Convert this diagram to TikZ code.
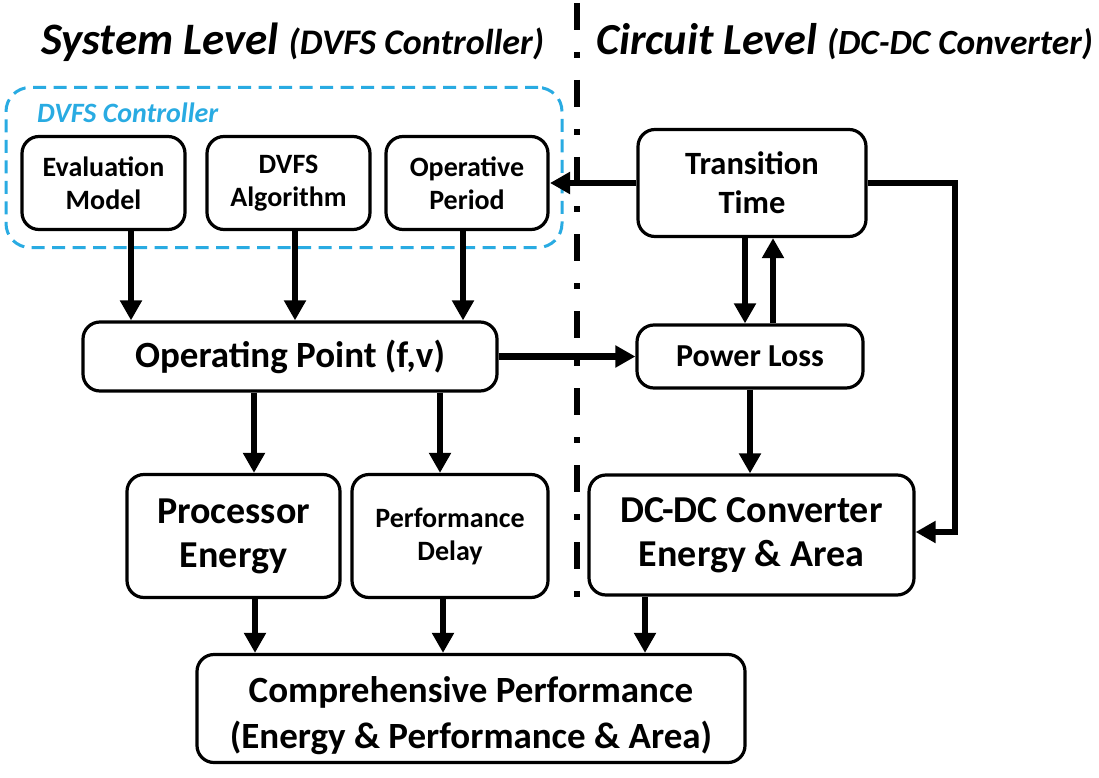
\documentclass[tikz,border=0pt]{standalone}
\usepackage{fontspec}
\setmainfont{Carlito}
\usetikzlibrary{arrows.meta,calc}
\definecolor{ctrlblue}{RGB}{41,171,226}
\begin{document}
\begin{tikzpicture}[x=1pt,y=-1pt,
  box/.style={draw, line width=3.2pt, rounded corners=17pt, align=center, inner sep=0pt},
  arr/.style={line width=6.5pt, -{Triangle[length=20pt,width=21pt]}},
  fs/.style 2 args={font=\fontsize{#1}{#2}\selectfont\bfseries}]
\useasboundingbox (0,0) rectangle (1099,778);

% titles
\node[anchor=west, inner sep=0pt] (t1) at (41,42) {\fontsize{45}{54}\selectfont\bfseries\itshape System Level \fontsize{36}{44}\selectfont(DVFS Controller)};
\node[anchor=west, inner sep=0pt] (t2) at (596,42) {\fontsize{44.3}{54}\selectfont\bfseries\itshape Circuit Level \fontsize{35.4}{44}\selectfont(DC-DC Converter)};

% divider
\coordinate (d1) at (577,3);
\coordinate (d2) at (577,597);
\draw[line width=6.5pt, dash pattern=on 27pt off 22pt on 6pt off 22pt] (d1) -- (d2);

% DVFS controller group
\node[draw=ctrlblue, line width=3pt, dash pattern=on 13pt off 7.5pt, rounded corners=24pt,
      minimum width=556pt, minimum height=160pt, inner sep=0pt] (grp) at (284,167.5) {};
\node[anchor=west, inner sep=0pt, text=ctrlblue] (glabel) at (37,113) {\fontsize{28}{34}\selectfont\bfseries\itshape DVFS Controller};

% top boxes
\node[box, fs={28}{33}, minimum width=163pt, minimum height=93pt] (eval) at (103.5,183) {Evaluation\\Model};
\node[box, fs={28}{33}, minimum width=163pt, minimum height=93pt] (alg) at (288.5,183) {DVFS\\Algorithm};
\node[box, fs={28}{33}, minimum width=162pt, minimum height=93pt] (per) at (467,183) {Operative\\Period};

\node[box, fs={37}{44}, minimum width=414pt, minimum height=69pt] (op) at (290,356.5) {Operating Point (f,v)};

\node[box, fs={32.5}{39}, minimum width=228pt, minimum height=107pt] (tt) at (752,183) {Transition\\Time};
\node[box, fs={32}{38}, minimum width=226pt, minimum height=63pt] (pl) at (750,356.5) {Power Loss};

\node[box, fs={38}{44}, minimum width=213pt, minimum height=123pt] (pe) at (233.5,536) {Processor\\Energy};
\node[box, fs={28}{33}, minimum width=196pt, minimum height=123pt] (pd) at (450,536) {Performance\\Delay};
\node[box, fs={38}{44}, minimum width=325pt, minimum height=120pt] (dc) at (751.5,535) {DC-DC Converter\\Energy \& Area};

\node[box, fs={37}{46}, minimum width=548pt, minimum height=103pt] (cp) at (471,708.5)
  {\raisebox{0pt}[\dimexpr\height+16pt\relax][\depth]{\begin{tabular}{@{}c@{}}Comprehensive Performance\\(Energy \& Performance \& Area)\end{tabular}}};

% arrows from top boxes
\coordinate (a1) at (eval.south -| 131,0);
\coordinate (a2) at (alg.south -| 295,0);
\coordinate (a3) at (per.south -| 463,0);
\draw[arr] (a1) -- (a1 |- op.north);
\draw[arr] (a2) -- (a2 |- op.north);
\draw[arr] (a3) -- (a3 |- op.north);

% operating point to power loss
\draw[arr] (op.east) -- (pl.west);

% transition time to operative period (free end)
\coordinate (ttin) at (550,183);
\draw[arr] (tt.west) -- (ttin);

% TT <-> PL
\coordinate (b1) at (tt.south -| 745,0);
\coordinate (b2) at (pl.north -| 773,0);
\draw[arr] (b1) -- (b1 |- pl.north);
\draw[arr] (b2) -- (b2 |- tt.south);

% TT right loop to DC-DC
\coordinate (r1) at (955,183);
\coordinate (r2) at (955,532);
\draw[arr] (tt.east) -- (r1) -- (r2) -- (r2 -| dc.east);

% power loss to DC-DC
\draw[arr] (pl.south) -- (pl.south |- dc.north);

% operating point down
\coordinate (c1) at (op.south -| 254,0);
\coordinate (c2) at (op.south -| 440,0);
\draw[arr] (c1) -- (c1 |- pe.north);
\draw[arr] (c2) -- (c2 |- pd.north);

% to comprehensive
\coordinate (e1) at (pe.south -| 255,0);
\coordinate (e2) at (pd.south -| 443,0);
\coordinate (e3) at (dc.south -| 645,0);
\draw[arr] (e1) -- (e1 |- cp.north);
\draw[arr] (e2) -- (e2 |- cp.north);
\draw[arr] (e3) -- (e3 |- cp.north);
\end{tikzpicture}
\end{document}
